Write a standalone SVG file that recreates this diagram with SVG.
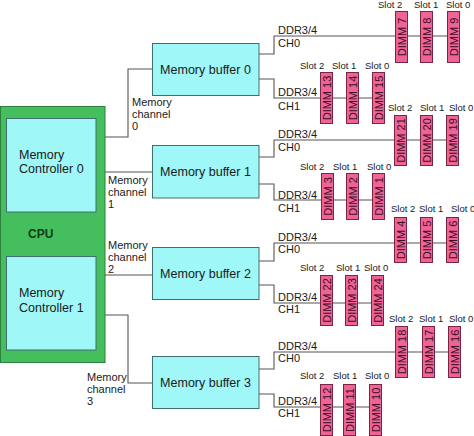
<svg xmlns="http://www.w3.org/2000/svg" width="474" height="436" viewBox="0 0 474 436">
<style>
text{font-family:"Liberation Sans",Arial,sans-serif;fill:#1a1a1a}
.cpu{fill:#45be5e;stroke:#2d7f3d;stroke-width:1}
.box{fill:#9ff7f7;stroke:#3f6f6f;stroke-width:1}
.dimm{fill:#ef6396;stroke:#7a2445;stroke-width:1}
.wire{fill:none;stroke:#555;stroke-width:1.1}
.big{font-size:12.5px}
.mid{font-size:11px}
.slot{font-size:9.5px}
.dt{font-size:11px;fill:#3a0f1f;text-anchor:middle}
.bt{font-size:12.5px;text-anchor:middle}
</style>
<rect width="474" height="436" fill="#fff"/>
<g id="connectors">
<path class="wire" d="M96 137H128V69H152M96 172H152M96 275H152M96 315H128V383H152"/>
<path class="wire" d="M259 54H274V36H447M259 79H274V98H372"/>
<path class="wire" d="M259 157H274V140H446M259 184H274V200H372"/>
<path class="wire" d="M259 261H274V243H446M259 285H274V303H371"/>
<path class="wire" d="M259 369H274V352H448M259 394H274V407H369"/>
</g>
<g id="cpu">
<rect class="cpu" x="0.5" y="106.5" width="104.5" height="256"/>
<text x="28" y="238" style="font-size:12px;font-weight:bold;fill:#143a14">CPU</text>
</g>
<g id="mc0">
<rect class="box" x="6.5" y="118.5" width="89.5" height="93.5"/>
<text class="big" x="19" y="159">Memory</text>
<text class="big" x="19" y="173">Controller 0</text>
</g>
<g id="mc1">
<rect class="box" x="6.5" y="256.5" width="89.5" height="93.5"/>
<text class="big" x="19" y="297">Memory</text>
<text class="big" x="19" y="312">Controller 1</text>
</g>
<g id="buffer0"><rect class="box" x="152.5" y="43.5" width="106.5" height="52"/><text class="bt" x="205.5" y="74">Memory buffer 0</text></g>
<g id="buffer1"><rect class="box" x="152.5" y="145.5" width="106.5" height="52.5"/><text class="bt" x="205.5" y="176">Memory buffer 1</text></g>
<g id="buffer2"><rect class="box" x="152.5" y="247.5" width="106.5" height="52"/><text class="bt" x="205.5" y="278">Memory buffer 2</text></g>
<g id="buffer3"><rect class="box" x="152.5" y="356.5" width="106.5" height="52"/><text class="bt" x="205.5" y="387">Memory buffer 3</text></g>
<g id="channel-labels" class="mid">
<text class="mid" x="132" y="106">Memory</text><text class="mid" x="132" y="118">channel</text><text class="mid" x="132" y="130">0</text>
<text class="mid" x="108" y="184">Memory</text><text class="mid" x="108" y="196">channel</text><text class="mid" x="108" y="208">1</text>
<text class="mid" x="108" y="249">Memory</text><text class="mid" x="108" y="261">channel</text><text class="mid" x="108" y="273">2</text>
<text class="mid" x="87" y="381">Memory</text><text class="mid" x="87" y="393">channel</text><text class="mid" x="87" y="405">3</text>
</g>
<g id="ddr-labels">
<text class="mid" x="278" y="34">DDR3/4</text><text class="mid" x="278" y="47">CH0</text>
<text class="mid" x="278" y="96">DDR3/4</text><text class="mid" x="278" y="110">CH1</text>
<text class="mid" x="278" y="138">DDR3/4</text><text class="mid" x="278" y="151">CH0</text>
<text class="mid" x="278" y="199">DDR3/4</text><text class="mid" x="278" y="212">CH1</text>
<text class="mid" x="278" y="241">DDR3/4</text><text class="mid" x="278" y="253">CH0</text>
<text class="mid" x="278" y="301">DDR3/4</text><text class="mid" x="278" y="313">CH1</text>
<text class="mid" x="278" y="350">DDR3/4</text><text class="mid" x="278" y="362">CH0</text>
<text class="mid" x="278" y="405">DDR3/4</text><text class="mid" x="278" y="417">CH1</text>
</g>
<g id="slot-labels">
<text class="slot" x="378" y="8">Slot 2</text><text class="slot" x="414" y="8">Slot 1</text><text class="slot" x="446" y="8">Slot 0</text>
<text class="slot" x="300" y="69">Slot 2</text><text class="slot" x="332" y="69">Slot 1</text><text class="slot" x="365" y="69">Slot 0</text>
<text class="slot" x="388" y="111">Slot 2</text><text class="slot" x="420" y="111">Slot 1</text><text class="slot" x="449" y="111">Slot 0</text>
<text class="slot" x="300" y="170">Slot 2</text><text class="slot" x="333" y="170">Slot 1</text><text class="slot" x="367" y="170">Slot 0</text>
<text class="slot" x="391" y="212">Slot 2</text><text class="slot" x="419" y="212">Slot 1</text><text class="slot" x="451" y="212">Slot 0</text>
<text class="slot" x="300" y="271">Slot 2</text><text class="slot" x="336" y="271">Slot 1</text><text class="slot" x="364" y="271">Slot 0</text>
<text class="slot" x="389" y="322">Slot 2</text><text class="slot" x="419" y="322">Slot 1</text><text class="slot" x="449" y="322">Slot 0</text>
<text class="slot" x="300" y="379">Slot 2</text><text class="slot" x="333" y="379">Slot 1</text><text class="slot" x="365" y="379">Slot 0</text>
</g>
<g id="dimm7"><rect class="dimm" x="395.5" y="11.5" width="12" height="51"/><text class="dt" transform="translate(405.5 37) rotate(-90)">DIMM 7</text></g>
<g id="dimm8"><rect class="dimm" x="420.5" y="11.5" width="12" height="51"/><text class="dt" transform="translate(430.5 37) rotate(-90)">DIMM 8</text></g>
<g id="dimm9"><rect class="dimm" x="447.5" y="11.5" width="12" height="51"/><text class="dt" transform="translate(457.5 37) rotate(-90)">DIMM 9</text></g>
<g id="dimm13"><rect class="dimm" x="320.5" y="72.5" width="12" height="51"/><text class="dt" transform="translate(330.5 98) rotate(-90)">DIMM 13</text></g>
<g id="dimm14"><rect class="dimm" x="346.5" y="72.5" width="12" height="51"/><text class="dt" transform="translate(356.5 98) rotate(-90)">DIMM 14</text></g>
<g id="dimm15"><rect class="dimm" x="372.5" y="72.5" width="12" height="51"/><text class="dt" transform="translate(382.5 98) rotate(-90)">DIMM 15</text></g>
<g id="dimm21"><rect class="dimm" x="394.5" y="115.5" width="12" height="50"/><text class="dt" transform="translate(404.5 140.5) rotate(-90)">DIMM 21</text></g>
<g id="dimm20"><rect class="dimm" x="420.5" y="115.5" width="12" height="50"/><text class="dt" transform="translate(430.5 140.5) rotate(-90)">DIMM 20</text></g>
<g id="dimm19"><rect class="dimm" x="446.5" y="115.5" width="12" height="50"/><text class="dt" transform="translate(456.5 140.5) rotate(-90)">DIMM 19</text></g>
<g id="dimm3"><rect class="dimm" x="321.5" y="173.5" width="12" height="46"/><text class="dt" transform="translate(331.5 196.5) rotate(-90)">DIMM 3</text></g>
<g id="dimm2"><rect class="dimm" x="346.5" y="173.5" width="12" height="46"/><text class="dt" transform="translate(356.5 196.5) rotate(-90)">DIMM 2</text></g>
<g id="dimm1"><rect class="dimm" x="372.5" y="173.5" width="12" height="46"/><text class="dt" transform="translate(382.5 196.5) rotate(-90)">DIMM 1</text></g>
<g id="dimm4"><rect class="dimm" x="394.5" y="217.5" width="12" height="45"/><text class="dt" transform="translate(404.5 240) rotate(-90)">DIMM 4</text></g>
<g id="dimm5"><rect class="dimm" x="420.5" y="217.5" width="12" height="45"/><text class="dt" transform="translate(430.5 240) rotate(-90)">DIMM 5</text></g>
<g id="dimm6"><rect class="dimm" x="446.5" y="217.5" width="12" height="45"/><text class="dt" transform="translate(456.5 240) rotate(-90)">DIMM 6</text></g>
<g id="dimm22"><rect class="dimm" x="320.5" y="275.5" width="12" height="50"/><text class="dt" transform="translate(330.5 300.5) rotate(-90)">DIMM 22</text></g>
<g id="dimm23"><rect class="dimm" x="345.5" y="275.5" width="12" height="50"/><text class="dt" transform="translate(355.5 300.5) rotate(-90)">DIMM 23</text></g>
<g id="dimm24"><rect class="dimm" x="371.5" y="275.5" width="12" height="50"/><text class="dt" transform="translate(381.5 300.5) rotate(-90)">DIMM 24</text></g>
<g id="dimm18"><rect class="dimm" x="395.5" y="326.5" width="12" height="51"/><text class="dt" transform="translate(405.5 352) rotate(-90)">DIMM 18</text></g>
<g id="dimm17"><rect class="dimm" x="422.5" y="326.5" width="12" height="51"/><text class="dt" transform="translate(432.5 352) rotate(-90)">DIMM 17</text></g>
<g id="dimm16"><rect class="dimm" x="448.5" y="326.5" width="12" height="51"/><text class="dt" transform="translate(458.5 352) rotate(-90)">DIMM 16</text></g>
<g id="dimm12"><rect class="dimm" x="320.5" y="384.5" width="12" height="51"/><text class="dt" transform="translate(330.5 410) rotate(-90)">DIMM 12</text></g>
<g id="dimm11"><rect class="dimm" x="343.5" y="384.5" width="12" height="51"/><text class="dt" transform="translate(353.5 410) rotate(-90)">DIMM 11</text></g>
<g id="dimm10"><rect class="dimm" x="369.5" y="384.5" width="12" height="51"/><text class="dt" transform="translate(379.5 410) rotate(-90)">DIMM 10</text></g>
</svg>
